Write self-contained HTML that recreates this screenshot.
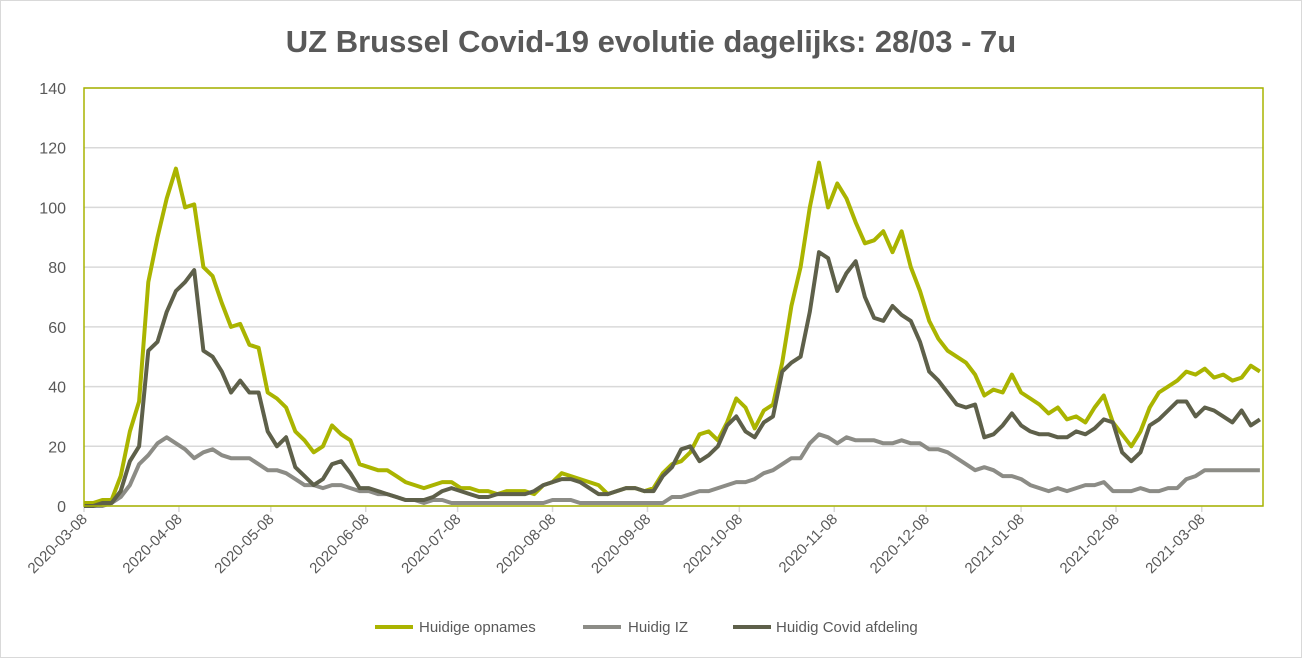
<!DOCTYPE html>
<html><head><meta charset="utf-8"><style>
body{margin:0;background:#fff;}
svg{display:block;font-family:"Liberation Sans",sans-serif;}
</style></head><body>
<svg id="chart" width="1302" height="658" viewBox="0 0 1302 658">
<rect x="0.5" y="0.5" width="1301" height="657" fill="#fff" stroke="#d9d9d9"/>
<text x="651" y="52" text-anchor="middle" font-size="31" font-weight="bold" fill="#595959">UZ Brussel Covid-19 evolutie dagelijks: 28/03 - 7u</text>
<g id="grid"></g>
<g id="yaxis"></g>
<g id="xaxis"></g>
<g id="series"></g>
<rect x="84" y="88" width="1179" height="418" fill="none" stroke="#a8b400" stroke-width="1.5"/>
<g font-size="15" fill="#595959">
<g><line x1="375" y1="627" x2="413" y2="627" stroke="#aab400" stroke-width="4"/><text x="419" y="632">Huidige opnames</text></g>
<g><line x1="583" y1="627" x2="621" y2="627" stroke="#8c8c86" stroke-width="4"/><text x="628" y="632">Huidig IZ</text></g>
<g><line x1="733" y1="627" x2="771" y2="627" stroke="#5e604a" stroke-width="4"/><text x="776" y="632">Huidig Covid afdeling</text></g>
</g>
</svg>
<script>
const yTicks=[0,20,40,60,80,100,120,140];
const xTickLabels=["2020-03-08","2020-04-08","2020-05-08","2020-06-08","2020-07-08","2020-08-08","2020-09-08","2020-10-08","2020-11-08","2020-12-08","2021-01-08","2021-02-08","2021-03-08"];
const xTickDays=[0,31,61,92,122,153,184,214,245,275,306,337,365];
const sampleStep=3;
const opnames=[1,1,2,2,10,25,35,75,90,103,113,100,101,80,77,68,60,61,54,53,38,36,33,25,22,18,20,27,24,22,14,13,12,12,10,8,7,6,7,8,8,6,6,5,5,4,5,5,5,4,7,8,11,10,9,8,7,4,5,6,6,5,6,11,14,15,18,24,25,22,28,36,33,26,32,34,48,67,80,100,115,100,108,103,95,88,89,92,85,92,80,72,62,56,52,50,48,44,37,39,38,44,38,36,34,31,33,29,30,28,33,37,28,24,20,25,33,38,40,42,45,44,46,43,44,42,43,47,45];
const iz=[0,0,0,1,3,7,14,17,21,23,21,19,16,18,19,17,16,16,16,14,12,12,11,9,7,7,6,7,7,6,5,5,4,4,3,2,2,1,2,2,1,1,1,1,1,1,1,1,1,1,1,2,2,2,1,1,1,1,1,1,1,1,1,1,3,3,4,5,5,6,7,8,8,9,11,12,14,16,16,21,24,23,21,23,22,22,22,21,21,22,21,21,19,19,18,16,14,12,13,12,10,10,9,7,6,5,6,5,6,7,7,8,5,5,5,6,5,5,6,6,9,10,12,12,12,12,12,12,12];
const afdeling=[0,0,1,1,5,15,20,52,55,65,72,75,79,52,50,45,38,42,38,38,25,20,23,13,10,7,9,14,15,11,6,6,5,4,3,2,2,2,3,5,6,5,4,3,3,4,4,4,4,5,7,8,9,9,8,6,4,4,5,6,6,5,5,10,13,19,20,15,17,20,27,30,25,23,28,30,45,48,50,65,85,83,72,78,82,70,63,62,67,64,62,55,45,42,38,34,33,34,23,24,27,31,27,25,24,24,23,23,25,24,26,29,28,18,15,18,27,29,32,35,35,30,33,32,30,28,32,27,29];
const X0=84,X1=1263,Y0=506,Y1=88,DMAX=385,VMAX=140;
const xs=d=>X0+d*(X1-X0)/DMAX;
const ys=v=>Y0-v*(Y0-Y1)/VMAX;
const NS="http://www.w3.org/2000/svg";
const mk=(t,a,p)=>{const e=document.createElementNS(NS,t);for(const k in a)e.setAttribute(k,a[k]);p.appendChild(e);return e;};
const grid=document.getElementById('grid'),ya=document.getElementById('yaxis'),xa=document.getElementById('xaxis'),ser=document.getElementById('series');
yTicks.forEach(v=>{
 const l=mk('line',{x1:X0,x2:X1,y1:ys(v),y2:ys(v),stroke:'#d9d9d9','stroke-width':1.5},grid);
 
 
 const t=mk('text',{x:66,y:ys(v)+6,'text-anchor':'end','font-size':16,fill:'#595959'},ya);
 t.textContent=v;
 
 
});
xTickDays.forEach((d,i)=>{
 const x=xs(d);
 const tk=mk('line',{x1:x,x2:x,y1:Y0,y2:Y0+6,stroke:'#d9d9d9','stroke-width':1.5},xa);
 
 
 const t=mk('text',{x:x+4,y:Y0+14,'text-anchor':'end','font-size':15,fill:'#595959',transform:`rotate(-45 ${x+4} ${Y0+14})`},xa);
 t.textContent=xTickLabels[i];
 
 
});
function draw(arr,color,name){
 const pts=arr.map((v,i)=>xs(i*sampleStep).toFixed(1)+','+ys(v).toFixed(1)).join(' ');
 const p=mk('polyline',{points:pts,fill:'none',stroke:color,'stroke-width':4,'stroke-linejoin':'round'},ser);
 
 
}
draw(iz,'#8c8c86','line-huidig-iz');
draw(opnames,'#aab400','line-huidige-opnames');
draw(afdeling,'#5e604a','line-huidig-covid-afdeling');
</script>
</body></html>
